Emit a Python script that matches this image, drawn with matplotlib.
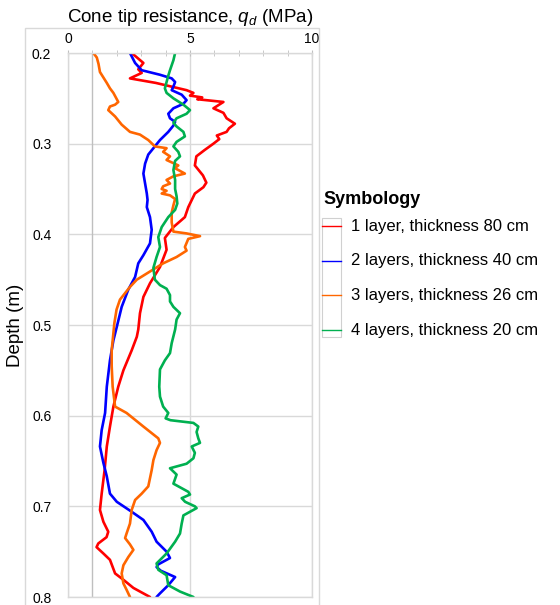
#!/usr/bin/env python
# -*- coding: utf-8 -*-

"""
Cone tip resistance profiles for the layered test beds.
"""

import matplotlib
matplotlib.use("Agg")

import matplotlib.pyplot as plt
from matplotlib.lines import Line2D
from matplotlib.patches import Rectangle

# Arial-ish text, with the q_d in the same family.
plt.rcParams['font.family'] = 'Liberation Sans'
plt.rcParams['mathtext.fontset'] = 'custom'
plt.rcParams['mathtext.rm'] = 'Liberation Sans'
plt.rcParams['mathtext.it'] = 'Liberation Sans:italic'

# Depth (m) and q_d (MPa).
depth_1 = [0.200, 0.211, 0.218, 0.222, 0.228, 0.233, 0.241, 0.244, 0.247, 0.249,
           0.251, 0.254, 0.261, 0.266, 0.272, 0.278, 0.283, 0.287, 0.291, 0.295,
           0.300, 0.307, 0.314, 0.324, 0.335, 0.343, 0.348, 0.355, 0.370, 0.381,
           0.392, 0.404, 0.417, 0.436, 0.454, 0.469, 0.487, 0.505, 0.513, 0.528,
           0.550, 0.568, 0.590, 0.612, 0.634, 0.660, 0.686, 0.704, 0.717, 0.728,
           0.734, 0.741, 0.745, 0.752, 0.759, 0.774, 0.781, 0.790, 0.800]
qd_1 = [2.61, 3.09, 2.88, 3.02, 2.54, 3.60, 4.86, 5.14, 5.00, 5.50,
        5.30, 6.37, 5.96, 6.37, 6.50, 6.84, 6.60, 6.50, 6.10, 6.20,
        5.96, 5.60, 5.26, 5.20, 5.53, 5.67, 5.55, 5.20, 4.93, 4.79,
        4.32, 3.97, 4.04, 3.77, 3.36, 3.09, 2.95, 2.88, 2.82, 2.61,
        2.27, 2.06, 1.86, 1.72, 1.59, 1.50, 1.38, 1.31, 1.45, 1.65,
        1.58, 1.24, 1.17, 1.45, 1.72, 1.93, 2.27, 2.68, 3.36]

depth_2 = [0.200, 0.211, 0.219, 0.224, 0.228, 0.232, 0.237, 0.241, 0.246, 0.252,
           0.256, 0.261, 0.267, 0.272, 0.276, 0.280, 0.287, 0.296, 0.305, 0.312,
           0.322, 0.333, 0.344, 0.355, 0.362, 0.370, 0.381, 0.395, 0.410, 0.423,
           0.432, 0.447, 0.461, 0.480, 0.502, 0.517, 0.539, 0.568, 0.597, 0.616,
           0.634, 0.652, 0.667, 0.686, 0.695, 0.706, 0.715, 0.728, 0.739, 0.750,
           0.757, 0.764, 0.767, 0.771, 0.778, 0.787, 0.796, 0.800]
qd_2 = [2.54, 2.75, 3.02, 3.77, 4.25, 4.39, 4.32, 4.25, 4.66, 4.86,
        4.73, 4.32, 4.11, 4.18, 4.39, 4.32, 4.11, 3.77, 3.50, 3.29,
        3.16, 3.09, 3.16, 3.23, 3.26, 3.23, 3.36, 3.43, 3.36, 3.09,
        2.88, 2.75, 2.47, 2.20, 2.00, 1.86, 1.72, 1.59, 1.52, 1.38,
        1.31, 1.45, 1.59, 1.72, 2.00, 2.61, 3.09, 3.43, 3.63, 4.04,
        4.18, 3.70, 3.63, 3.80, 4.39, 4.11, 3.77, 3.63]

depth_3 = [0.200, 0.205, 0.212, 0.221, 0.233, 0.239, 0.244, 0.254, 0.257, 0.259,
           0.263, 0.270, 0.279, 0.287, 0.290, 0.296, 0.303, 0.305, 0.309, 0.314,
           0.318, 0.324, 0.327, 0.333, 0.336, 0.340, 0.344, 0.347, 0.350, 0.352,
           0.355, 0.357, 0.361, 0.368, 0.376, 0.387, 0.397, 0.399, 0.402, 0.405,
           0.414, 0.418, 0.425, 0.432, 0.441, 0.450, 0.458, 0.472, 0.483, 0.498,
           0.509, 0.528, 0.545, 0.568, 0.590, 0.597, 0.612, 0.625, 0.630, 0.638,
           0.649, 0.660, 0.678, 0.686, 0.693, 0.704, 0.719, 0.730, 0.735, 0.742,
           0.748, 0.756, 0.765, 0.774, 0.785, 0.792, 0.800]
qd_3 = [1.04, 1.18, 1.25, 1.31, 1.59, 1.72, 1.86, 2.06, 1.93, 1.72,
        1.65, 1.93, 2.20, 2.54, 2.95, 3.29, 3.56, 4.04, 3.90, 4.18,
        4.04, 4.52, 4.38, 4.79, 4.32, 4.04, 4.18, 3.90, 3.84, 4.04,
        3.84, 4.18, 4.39, 4.32, 4.25, 4.25, 4.32, 4.86, 5.41, 4.93,
        4.79, 4.86, 4.45, 3.90, 3.36, 2.82, 2.54, 2.13, 1.99, 1.90,
        1.86, 1.79, 1.79, 1.83, 1.93, 2.40, 3.09, 3.70, 3.77, 3.63,
        3.50, 3.43, 3.29, 3.02, 2.75, 2.61, 2.54, 2.40, 2.34, 2.54,
        2.68, 2.47, 2.27, 2.20, 2.27, 2.40, 2.54]

depth_4 = [0.200, 0.208, 0.219, 0.225, 0.232, 0.239, 0.244, 0.250, 0.257, 0.263,
           0.267, 0.272, 0.277, 0.281, 0.287, 0.292, 0.298, 0.303, 0.309, 0.314,
           0.319, 0.329, 0.340, 0.350, 0.358, 0.366, 0.373, 0.381, 0.392, 0.403,
           0.414, 0.425, 0.437, 0.450, 0.456, 0.460, 0.467, 0.474, 0.480, 0.487,
           0.494, 0.505, 0.520, 0.531, 0.539, 0.549, 0.568, 0.579, 0.590, 0.597,
           0.603, 0.605, 0.608, 0.612, 0.618, 0.625, 0.630, 0.634, 0.641, 0.647,
           0.653, 0.658, 0.665, 0.675, 0.684, 0.687, 0.691, 0.695, 0.700, 0.702,
           0.710, 0.719, 0.730, 0.739, 0.752, 0.763, 0.770, 0.776, 0.787, 0.794,
           0.800]
qd_4 = [4.39, 4.32, 4.18, 4.11, 4.04, 3.97, 4.04, 4.32, 4.73, 5.00,
        4.86, 4.45, 4.32, 4.45, 4.73, 4.79, 4.45, 4.32, 4.52, 4.59,
        4.39, 4.32, 4.39, 4.39, 4.45, 4.48, 4.39, 4.11, 3.84, 3.70,
        3.77, 3.63, 3.50, 3.56, 3.77, 4.04, 4.18, 4.18, 4.32, 4.59,
        4.45, 4.39, 4.25, 4.18, 3.97, 3.77, 3.74, 3.77, 3.90, 4.11,
        4.00, 4.20, 5.14, 5.34, 5.27, 5.34, 5.41, 5.07, 5.20, 5.14,
        4.86, 4.18, 4.45, 4.32, 4.93, 5.00, 4.66, 4.80, 5.20, 5.27,
        4.73, 4.66, 4.59, 4.39, 4.04, 3.63, 3.70, 4.04, 4.11, 4.59,
        5.14]

labels = ["1 layer, thickness 80 cm", "2 layers, thickness 40 cm",
          "3 layers, thickness 26 cm", "4 layers, thickness 20 cm"]
colours = ['#ff0000', '#0000ff', '#ff6600', '#00b050']

W, H = 560., 605.

fig = plt.figure(figsize=(5.6, 6.05), dpi=100, facecolor='w')

# Plot area box (Excel style) around the axes.
fig.add_artist(Rectangle((25/W, -0.02), (319-25)/W, (605-28)/H + 0.02,
                         transform=fig.transFigure, fill=False,
                         edgecolor='#d9d9d9', lw=1.0))

ax = fig.add_axes([68/W, 8/H, 244/W, 544/H])

ax.set_xlim(0, 10)
ax.set_ylim(0.8, 0.2)

for s in ax.spines.values():
    s.set_color('#d9d9d9')
    s.set_linewidth(1.0)

# x axis on top with a tick every 1 MPa.
ax.xaxis.tick_top()
ax.xaxis.set_label_position('top')
ax.set_xticks([0, 5, 10])
ax.set_xticks(range(11), minor=True)
ax.tick_params(axis='x', which='both', direction='inout', length=4,
               color='#bfbfbf', labelsize=10, pad=3)
ax.set_xlabel("Cone tip resistance, $q_d$ (MPa)", fontsize=13.5, labelpad=7)

ax.set_yticks([0.2, 0.3, 0.4, 0.5, 0.6, 0.7, 0.8])
ax.set_yticklabels(["0.2", "0.3", "0.4", "0.5", "0.6", "0.7", "0.8"])
ax.tick_params(axis='y', length=0, labelsize=10, pad=12)
ax.set_ylabel("Depth (m)", fontsize=13.5)
ax.yaxis.set_label_coords(-0.18, 0.5)

ax.grid(True, which='major', color='#d9d9d9', lw=1.0)
ax.set_axisbelow(True)

# The vertical axis crosses at 1 MPa.
ax.axvline(1, color='#bfbfbf', lw=1.0, zorder=1)

series = [(depth_1, qd_1), (depth_2, qd_2), (depth_3, qd_3), (depth_4, qd_4)]
for (d, q), c in zip(series, colours):
    ax.plot(q, d, color=c, lw=1.9, solid_joinstyle='round',
            solid_capstyle='round', clip_on=True)

# Legend, drawn by hand to get the Excel look.
fig.text(323/W, 1 - 200/H, "Symbology", fontsize=13, fontweight='bold',
         va='center', ha='left')
fig.add_artist(Rectangle((322/W, 1 - 337/H), 19/W, 119/H,
                         transform=fig.transFigure, fill=False,
                         edgecolor='#d0d0d0', lw=0.8))
for i, (lab, c) in enumerate(zip(labels, colours)):
    yc = 1 - (226 + 34.7*i)/H
    fig.add_artist(Line2D([322/W, 341/W], [yc, yc], color=c, lw=1.0,
                          transform=fig.transFigure))
    fig.text(351/W, yc, lab, fontsize=12, va='center', ha='left')

fig.savefig("out.png", dpi=100)
